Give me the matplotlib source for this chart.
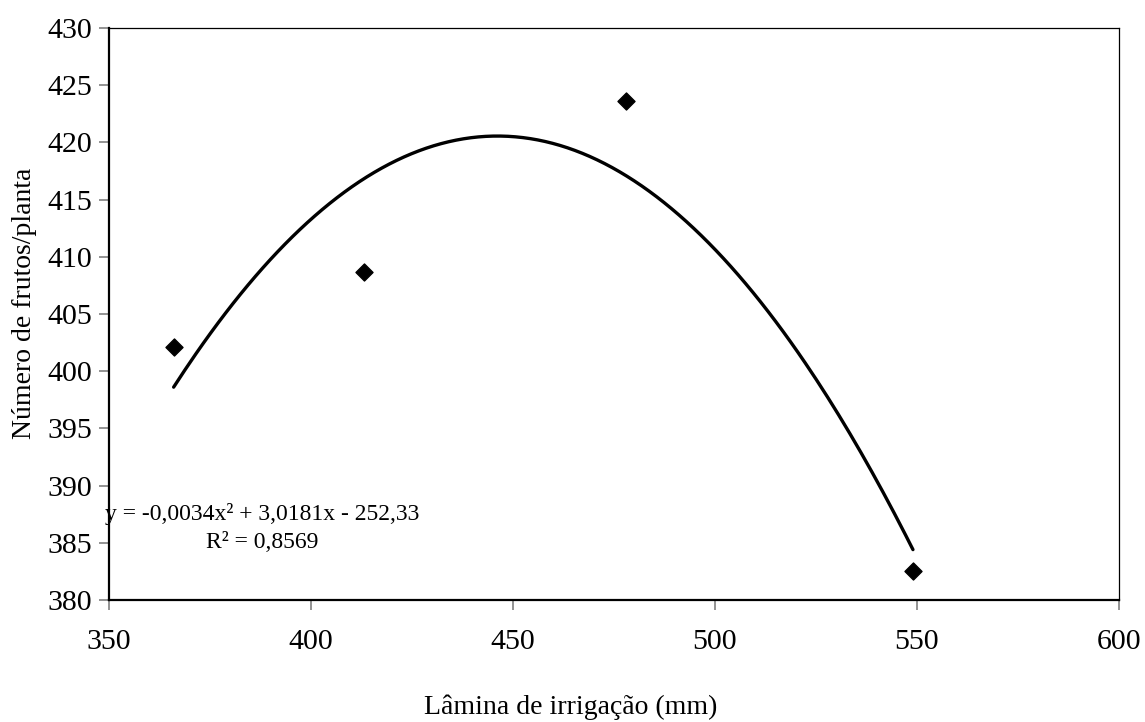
import numpy as np
import matplotlib
matplotlib.use("Agg")
from matplotlib import pyplot as plt

# dados
lamina = [366, 413, 478, 549]
frutos = [402.1, 408.7, 423.6, 382.5]

x_ticks = [350, 400, 450, 500, 550, 600]
y_ticks = [380, 385, 390, 395, 400, 405, 410, 415, 420, 425, 430]

equacao = "y = -0,0034x² + 3,0181x - 252,33\nR² = 0,8569"

plt.rcParams['font.family'] = ['Liberation Serif', 'DejaVu Serif']

# linha de tendência polinomial (ordem 2), como no Excel
coef = np.polyfit(lamina, frutos, 2)
xs = np.linspace(min(lamina), max(lamina), 200)
ys = np.polyval(coef, xs)

fig = plt.figure(figsize=(11.45, 7.22), dpi=100)
ax = fig.add_axes([109 / 1145, 1 - 600 / 722, 1010 / 1145, 572 / 722])

ax.plot(xs, ys, color='black', lw=2.4, solid_capstyle='round')
ax.scatter(lamina, frutos, marker='D', s=75, color='black', zorder=3)

ax.set_xlim(350, 600)
ax.set_ylim(380, 430)
ax.set_xticks(x_ticks)
ax.set_yticks(y_ticks)
ax.tick_params(labelsize=21.5, direction='out', length=7, width=1.2, color='#808080', pad=14)
ax.tick_params(axis='y', pad=5)

for s in ['left', 'bottom']:
    ax.spines[s].set_linewidth(1.6)
for s in ['top', 'right']:
    ax.spines[s].set_linewidth(0.9)

ax.set_xlabel('Lâmina de irrigação (mm)', fontsize=20)
ax.xaxis.set_label_coords(0.457, -0.187)
ax.xaxis.label.set_va('center')
ax.set_ylabel('Número de frutos/planta', fontsize=20)
ax.yaxis.set_label_coords(-0.084, 0.519)
ax.yaxis.label.set_va('center')

ax.text(388, 386.3, equacao, fontsize=17, ha='center', va='center', linespacing=1.45)

fig.savefig('out.png', dpi=100)
